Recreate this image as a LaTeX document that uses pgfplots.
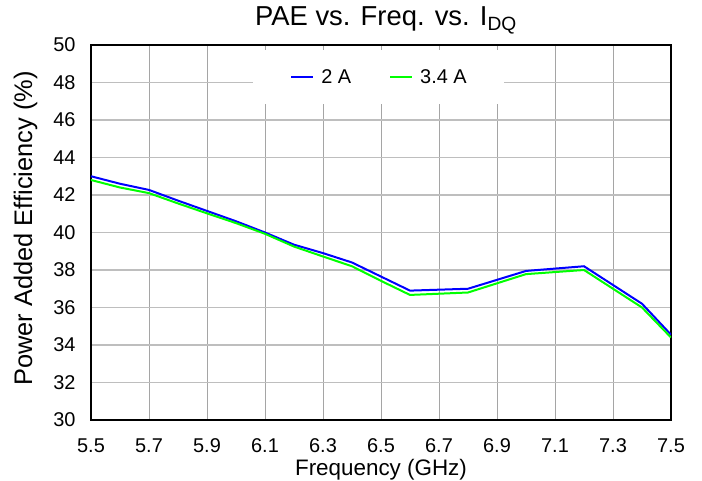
\documentclass[border=0pt]{standalone}
\usepackage{fontspec}
\setmainfont{Liberation Sans}
\usepackage{pgfplots}
\pgfplotsset{compat=1.18}
\definecolor{gridc}{RGB}{165,165,165}
\definecolor{gridh}{RGB}{190,190,190}
\begin{document}
\begin{tikzpicture}
\begin{axis}[
  name=ax,
  scale only axis,
  width=580bp, height=375bp,
  xmin=5.5, xmax=7.5, ymin=30, ymax=50,
  xtick={5.5,5.7,...,7.55},
  ytick={30,32,...,50},
  xticklabels={5.5,5.7,5.9,6.1,6.3,6.5,6.7,6.9,7.1,7.3,7.5},
  /pgf/number format/assume math mode=true,
  tick style={draw=none},
  xmajorgrids, ymajorgrids,
  x grid style={gridc, line width=0.9pt},
  y grid style={gridh, line width=1.1pt},
  axis line style={black, line width=1.2pt},
  ticklabel style={font=\fontsize{20}{22}\selectfont},
  xticklabel style={yshift=-15bp},
  yticklabel style={xshift=-12bp},
  xlabel={Frequency (GHz)},
  ylabel={Power Added Efficiency (\%)},
  xlabel style={font=\fontsize{22.5}{24}\selectfont, at={(axis description cs:0.5,-0.1493)}, anchor=base},
  ylabel style={font=\fontsize{25.5}{27}\selectfont, at={(axis description cs:-0.1017,0.5107)}, anchor=base},
  title={PAE vs. Freq. vs. I\textsubscript{DQ}},
  title style={font=\fontsize{27.5}{30}\selectfont, at={(axis description cs:0.5086,1.0355)}, anchor=base},
  legend style={at={(0.4957,0.9147)}, anchor=center, draw=none, fill=white,
    legend columns=2,
    nodes={inner sep=0pt, font=\fontsize{20}{22}\selectfont},
    /tikz/every even column/.append style={column sep=38bp},
    /tikz/every odd column/.append style={column sep=7bp},
    inner xsep=37bp, inner ysep=19bp},
  legend image code/.code={\draw[#1] (0bp,0bp) -- (22bp,0bp);},
]
\addplot[blue, line width=2bp] coordinates {
(5.5,43.0) (5.6,42.6) (5.7,42.27) (5.8,41.7) (5.9,41.15) (6.0,40.6) (6.1,40.0)
(6.2,39.35) (6.3,38.9) (6.4,38.4) (6.5,37.65) (6.6,36.9) (6.8,37.0) (7.0,37.95)
(7.2,38.2) (7.4,36.2) (7.5,34.55)};
\addlegendentry{2 A}
\addplot[green, line width=2bp] coordinates {
(5.5,42.8) (5.6,42.4) (5.7,42.1) (5.8,41.55) (5.9,41.02) (6.0,40.5) (6.1,39.93)
(6.2,39.25) (6.3,38.72) (6.4,38.2) (6.5,37.42) (6.6,36.67) (6.8,36.8) (7.0,37.78)
(7.2,38.0) (7.4,36.0) (7.5,34.4)};
\addlegendentry{3.4 A}
\end{axis}
\pgfresetboundingbox
\path (ax.south west) ++(-91bp,-61bp) rectangle ([xshift=31bp,yshift=45bp]ax.north east);
\end{tikzpicture}
\end{document}
